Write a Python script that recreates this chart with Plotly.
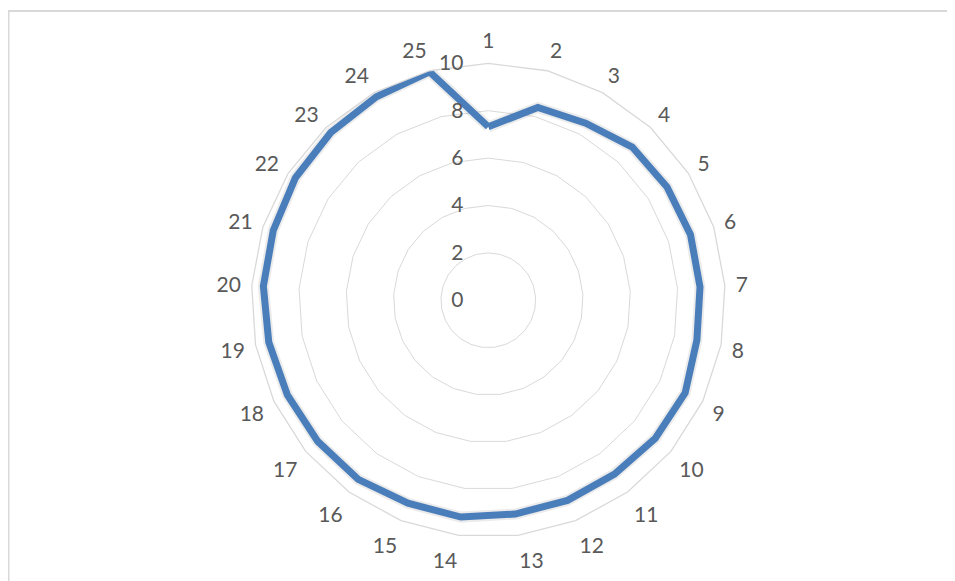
import plotly.graph_objects as go

categories = [str(i) for i in range(1, 26)]
values = [7.32, 8.4, 8.53, 8.87, 8.93, 8.97, 8.95, 8.96, 9.18, 9.14,
          9.06, 9.08, 9.09, 9.22, 9.21, 9.34, 9.34, 9.37, 9.43, 9.51,
          9.54, 9.64, 9.71, 9.8, 9.95]
radial_ticks = [0, 2, 4, 6, 8, 10]

W, H = 955, 581
OFF = 8  # page body margin
cx, cy, R = 488.3 - OFF, 300.3 - OFF, 237

theta = categories + categories[:1]
r = values + values[:1]

fig = go.Figure()
fig.add_trace(go.Scatterpolar(
    r=r, theta=theta, mode="lines",
    line=dict(color="rgba(0,0,0,0.08)", width=11),
    hoverinfo="skip", showlegend=False))
fig.add_trace(go.Scatterpolar(
    r=r, theta=theta, mode="lines",
    line=dict(color="#4A7EBB", width=7),
    showlegend=False))

fig.update_layout(
    width=W, height=H,
    margin=dict(l=0, r=0, t=0, b=0),
    paper_bgcolor="white",
    font=dict(family="Lato", color="#595959", size=21),
    polar=dict(
        domain=dict(x=[(cx - R) / W, (cx + R) / W],
                    y=[1 - (cy + R) / H, 1 - (cy - R) / H]),
        bgcolor="white",
        gridshape="linear",
        angularaxis=dict(
            direction="clockwise", rotation=90,
            showgrid=False, showline=True,
            linecolor="#D9D9D9", linewidth=1.3,
            ticks="outside", ticklen=6, tickcolor="rgba(0,0,0,0)",
            tickfont=dict(size=21, color="#595959"),
            categoryorder="array", categoryarray=categories,
        ),
        radialaxis=dict(
            range=[0, 10], tickvals=radial_ticks,
            ticktext=[str(v) for v in radial_ticks],
            angle=90, tickangle=90,
            showline=False, showgrid=True,
            gridcolor="#D9D9D9", gridwidth=1.3,
            ticks="outside", ticklen=17, tickcolor="rgba(0,0,0,0)",
            side="counterclockwise",
            tickfont=dict(size=21, color="#595959"),
        ),
    ),
    shapes=[
        dict(type="line", xref="paper", yref="paper",
             x0=0.5 / W, x1=0.5 / W, y0=0, y1=1 - 3 / H,
             line=dict(color="#D9D9D9", width=2)),
        dict(type="line", xref="paper", yref="paper",
             x0=0, x1=1, y0=1 - 3 / H, y1=1 - 3 / H,
             line=dict(color="#D9D9D9", width=2)),
    ],
)

fig.write_html("out.html")
